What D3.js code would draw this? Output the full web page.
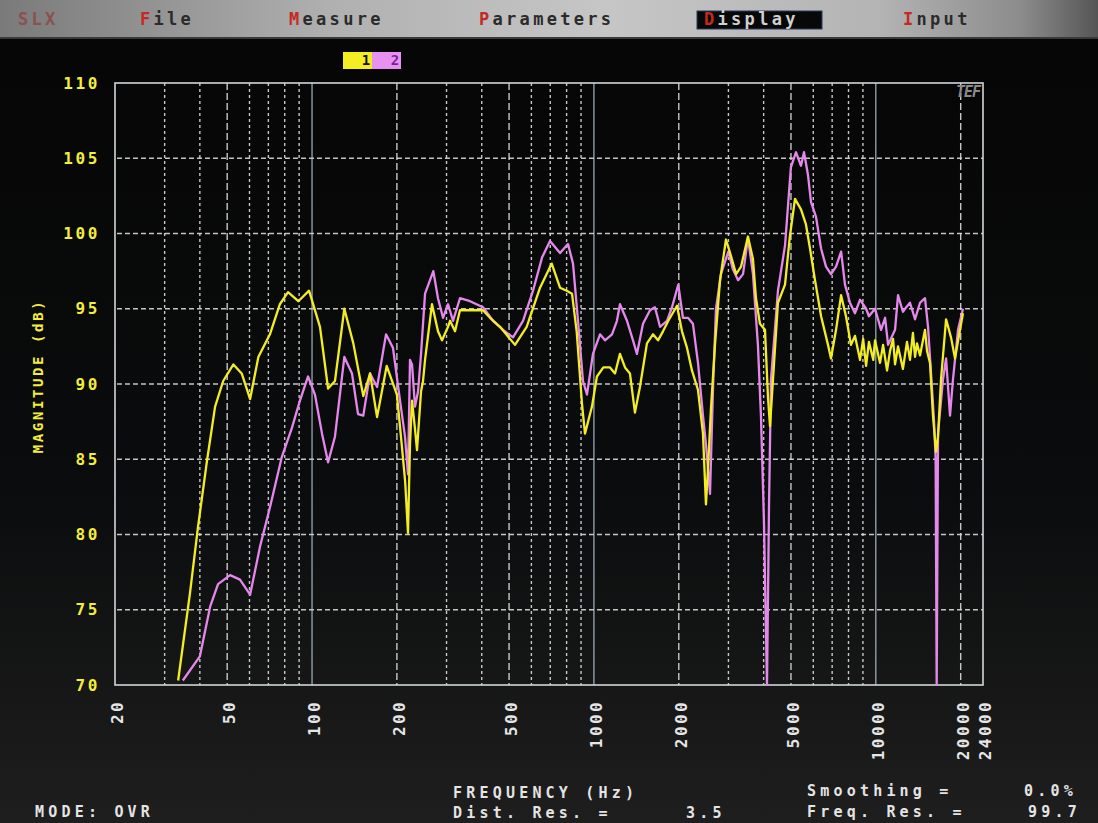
<!DOCTYPE html>
<html>
<head>
<meta charset="utf-8">
<script src="https://cdn.jsdelivr.net/npm/d3@7"></script>
<style>
  html, body { margin: 0; padding: 0; background: #0a0a0a; }
  svg { display: block; }
  text { font-family: "DejaVu Sans Mono", "Liberation Mono", monospace; font-weight: bold; }
</style>
</head>
<body>
<svg id="chart" width="1098" height="823"></svg>
<script>
// ---- data -------------------------------------------------------------
// Trace 1 (yellow): [frequency Hz, magnitude dB]
const trace1 = [
  [33.5,70.3],[36.9,76.1],[39.4,80.5],[42.4,84.9],[45.3,88.5],[48.4,90.2],[52.6,91.3],[56.3,90.7],
  [60.3,89.0],[64.5,91.8],[70.9,93.3],[76.9,95.3],[82.2,96.1],[89.4,95.5],[97.6,96.2],[106.7,93.8],
  [114,89.7],[120.6,90.2],[130.2,95.0],[140.1,92.7],[152,89.2],[160.6,90.7],[170.1,87.8],[184,91.2],
  [200,89.3],[208,86.0],[214,83.5],[219,80.1],[222.6,86.0],[226.3,88.9],[231.9,87.0],[235.7,85.6],
  [243.6,89.5],[247.6,90.2],[251.7,91.6],[266.4,95.3],[279.8,93.5],[289.1,92.9],[303.7,93.8],[308.7,94.2],
  [321.6,93.5],[334.8,94.9],[404,94.9],[427.9,94.4],[464.4,93.8],[524.8,92.6],[577.3,93.8],[643.9,96.4],
  [708.4,98.0],[758.1,96.4],[800.6,96.2],[836,96.0],[868.5,93.5],[907,88.7],[929.6,86.7],[984,88.5],
  [1025,90.5],[1080,91.1],[1140,91.1],[1188,90.7],[1237,92.0],[1289,91.1],[1342,90.7],[1398,88.1],
  [1456,89.8],[1542,92.7],[1620,93.3],[1688,92.9],[1758,93.5],[1836,94.2],[1971,95.2],[2053,93.5],
  [2139,92.4],[2227,90.9],[2340,89.6],[2437,86.7],[2497,82.0],[2539,84.4],[2602,88.4],[2688,92.6],
  [2801,96.9],[2941,99.6],[3064,98.5],[3194,97.3],[3326,97.8],[3519,99.8],[3666,98.3],[3757,95.7],
  [3881,94.0],[4044,93.6],[4145,89.1],[4213,87.2],[4318,90.3],[4496,95.4],[4763,96.6],[4948,99.7],
  [5167,102.3],[5427,101.6],[5652,100.6],[5841,99.0],[6085,96.9],[6394,94.5],[6766,92.6],[6935,91.7],
  [7226,93.6],[7530,95.9],[7836,94.5],[8163,92.6],[8433,93.2],[8790,91.6],[9017,93.0],[9236,91.2],
  [9452,92.8],[9795,91.6],[9934,92.9],[10351,91.4],[10610,92.6],[10960,90.9],[11234,92.2],[11512,93.0],
  [11700,91.3],[11989,92.5],[12480,91.0],[12900,92.8],[13220,91.6],[13540,93.4],[13775,91.8],[14000,92.7],
  [14347,91.9],[14945,93.6],[15190,92.2],[15570,91.4],[15950,87.9],[16350,85.5],[16620,86.5],[17030,90.3],
  [17750,94.3],[18480,93.1],[19100,91.7],[19890,93.6],[20380,94.7]
];

// Trace 2 (magenta): [frequency Hz, magnitude dB]
const trace2 = [
  [34.8,70.3],[40.0,71.9],[43.5,75.2],[46.4,76.7],[51.2,77.3],[55.5,77.0],[60.3,76.0],[65.4,79.2],
  [70.9,81.8],[78.0,85.1],[84.9,87.1],[90.6,88.9],[96.8,90.5],[102.4,89.3],[108.5,86.7],[114,84.8],
  [120.6,86.5],[130.2,91.8],[138.6,90.7],[145.6,88.0],[152,87.9],[160.6,90.7],[170.1,89.8],[183,93.3],
  [193.7,92.4],[205.2,88.9],[213.7,86.5],[219,84.0],[222.6,91.6],[226.3,91.3],[231.9,88.5],[237.7,89.5],
  [243.6,92.0],[251.7,96.0],[269.3,97.5],[279.8,95.7],[291.5,94.4],[303.7,95.3],[316.3,94.2],[334.8,95.7],
  [363.4,95.5],[404,95.1],[438.6,94.2],[475.9,93.6],[516.4,93.1],[560.4,94.2],[608,96.2],[654.4,98.4],
  [698.6,99.5],[758.1,98.7],[809.2,99.3],[843,98.0],[878.1,94.2],[914.5,90.2],[944.8,89.3],[992,92.0],
  [1051,93.3],[1095,92.9],[1159,93.3],[1207,94.2],[1237,95.3],[1310,94.2],[1376,92.9],[1421,92.0],
  [1493,94.0],[1581,94.9],[1646,95.1],[1716,93.8],[1817,94.2],[1892,95.1],[1992,96.6],[2069,94.4],
  [2156,94.4],[2245,94.0],[2340,91.4],[2437,87.9],[2497,86.0],[2581,82.7],[2646,89.8],[2710,95.0],
  [2823,97.3],[2997,98.8],[3115,97.6],[3247,96.9],[3380,97.3],[3519,99.7],[3666,97.3],[3817,92.6],
  [3913,87.9],[4011,80.8],[4111,70.0],[4180,82.0],[4248,90.3],[4496,96.2],[4763,99.2],[4997,104.4],
  [5210,105.4],[5427,104.5],[5561,105.4],[5745,103.9],[5889,102.1],[6135,101.1],[6394,99.0],[6656,97.8],
  [6935,97.3],[7226,97.8],[7530,98.8],[7773,96.6],[8096,95.4],[8433,94.7],[8790,95.6],[9236,95.0],
  [9452,94.5],[9934,95.0],[10437,93.6],[10786,94.4],[11052,92.6],[11700,93.6],[11989,95.9],[12480,94.8],
  [12694,95.0],[13220,95.4],[13775,94.3],[14347,95.4],[14945,95.7],[15318,93.8],[15700,90.7],[16090,87.5],
  [16300,85.0],[16440,70.0],[16620,86.7],[17310,90.3],[17750,91.7],[18330,87.9],[18780,90.3],[19570,93.6],
  [20380,95.0]
];

// Axis ticks and labels
const yTickValues = [70, 75, 80, 85, 90, 95, 100, 105, 110];
const xLabelValues = [20, 50, 100, 200, 500, 1000, 2000, 5000, 10000, 20000, 24000];
const xGridValues = [30, 40, 50, 60, 70, 80, 90, 100,
                     200, 300, 400, 500, 600, 700, 800, 900, 1000,
                     2000, 3000, 4000, 5000, 6000, 7000, 8000, 9000, 10000, 20000];
const menuLabels = ["SLX", "File", "Measure", "Parameters", "Display", "Input"];
const legendLabels = ["1", "2"];
const footerLeft = ["MODE: OVR"];
const footerMid = ["FREQUENCY (Hz)", "Dist. Res. =", "3.5"];
const footerRight = ["Smoothing =", "0.0%", "Freq. Res. =", "99.7"];

// ---- layout -----------------------------------------------------------
const W = 1098, H = 823;
const plot = { left: 115, right: 983, top: 83, bottom: 685 };
const COL1 = "#f2ee22", COL2 = "#e488ec", YEL = "#f4ee3a";

const svg = d3.select("#chart");
const defs = svg.append("defs");

const bg = defs.append("linearGradient").attr("id", "bg").attr("x1", 0).attr("y1", 0).attr("x2", 0).attr("y2", 1);
bg.append("stop").attr("offset", "0").attr("stop-color", "#050505");
bg.append("stop").attr("offset", "0.6").attr("stop-color", "#0b0c0d");
bg.append("stop").attr("offset", "1").attr("stop-color", "#1e1e1e");

const bar = defs.append("linearGradient").attr("id", "bar").attr("x1", 0).attr("y1", 0).attr("x2", 1).attr("y2", 0);
[["0", "#7a7a7a"], ["0.3", "#b0b0b0"], ["0.55", "#c6c6c6"], ["0.8", "#b4b4b4"], ["0.93", "#8c8c8c"], ["1", "#555555"]]
  .forEach(([o, c]) => bar.append("stop").attr("offset", o).attr("stop-color", c));

defs.append("clipPath").attr("id", "clip").append("rect")
  .attr("x", plot.left).attr("y", plot.top)
  .attr("width", plot.right - plot.left).attr("height", plot.bottom - plot.top);

svg.append("rect").attr("width", W).attr("height", H).attr("fill", "url(#bg)");

// ---- menu bar ---------------------------------------------------------
svg.append("rect").attr("x", 0).attr("y", 0).attr("width", W).attr("height", 38).attr("fill", "url(#bar)");
svg.append("rect").attr("x", 0).attr("y", 37).attr("width", W).attr("height", 2).attr("fill", "#3a3a3a");

const menuX = [18, 140, 289, 479, 697, 903];
const menu = svg.append("g").attr("font-size", 17).attr("letter-spacing", 3.3);
menuLabels.forEach((label, i) => {
  const active = label === "Display";
  if (active) {
    menu.append("rect").attr("x", 697).attr("y", 11).attr("width", 125).attr("height", 18)
      .attr("fill", "#080808").attr("stroke", "#2a3a60").attr("stroke-width", 1);
  }
  const t = menu.append("text").attr("x", active ? menuX[i] + 7 : menuX[i]).attr("y", 25);
  if (label === "SLX") {
    t.attr("fill", "#8e4848").attr("opacity", 0.85).text(label);
  } else {
    t.append("tspan").attr("fill", "#c42a22").text(label[0]);
    t.append("tspan").attr("fill", active ? "#d0d0d0" : "#2b2b2b").text(label.slice(1));
  }
});

// ---- legend -----------------------------------------------------------
const legend = svg.append("g").attr("font-size", 14);
[[COL1, "#111"], ["#e891f0", "#7a1f9a"]].forEach(([fill, ink], i) => {
  const x0 = 343 + i * 29;
  legend.append("rect").attr("x", x0).attr("y", 52).attr("width", 29).attr("height", 17).attr("fill", fill);
  legend.append("text").attr("x", x0 + 23).attr("y", 65).attr("text-anchor", "middle")
    .attr("fill", ink).text(legendLabels[i]);
});

// ---- scales -----------------------------------------------------------
const x = d3.scaleLog().domain([20, 24000]).range([plot.left, plot.right]);
const y = d3.scaleLinear().domain([70, 110]).range([plot.bottom, plot.top]);

// ---- grid -------------------------------------------------------------
const grid = svg.append("g");
grid.selectAll("line.h").data(yTickValues.filter(v => v > 70 && v < 110)).join("line")
  .attr("x1", plot.left + 2).attr("x2", plot.right)
  .attr("y1", d => y(d)).attr("y2", d => y(d))
  .attr("stroke", "#d9d9d9").attr("stroke-width", 1.3).attr("stroke-dasharray", "5 3").attr("opacity", 0.9);

const lead = v => Math.round(v / Math.pow(10, Math.floor(Math.log10(v) + 1e-9)));
grid.selectAll("line.v").data(xGridValues).join("line")
  .attr("x1", d => x(d)).attr("x2", d => x(d))
  .attr("y1", plot.top).attr("y2", plot.bottom)
  .attr("stroke", d => lead(d) === 1 ? "#b8c8d4" : "#dcdcdc")
  .attr("stroke-width", d => lead(d) === 1 ? 1.2 : 1.4)
  .attr("stroke-dasharray", d => lead(d) === 1 ? null : (lead(d) === 2 || lead(d) === 5 ? "7 3" : "3 3"))
  .attr("opacity", 0.9);

// frame
svg.append("rect").attr("x", plot.left).attr("y", plot.top)
  .attr("width", plot.right - plot.left).attr("height", plot.bottom - plot.top)
  .attr("fill", "none").attr("stroke", "#d2d6da").attr("stroke-width", 1.6);

// TEF mark
svg.append("text").attr("x", 980).attr("y", 97).attr("text-anchor", "end")
  .attr("font-size", 15).attr("font-style", "italic").attr("letter-spacing", -1)
  .attr("fill", "#8a8a8a").text("TEF");

// ---- traces -----------------------------------------------------------
const line = d3.line().x(d => x(d[0])).y(d => y(Math.max(70, d[1])));
const traces = svg.append("g").attr("clip-path", "url(#clip)").attr("fill", "none")
  .attr("stroke-width", 2.3).attr("stroke-linejoin", "round");
traces.append("path").datum(trace2).attr("d", line).attr("stroke", COL2);
traces.append("path").datum(trace1).attr("d", line).attr("stroke", COL1);

// ---- axes -------------------------------------------------------------
const yAxis = svg.append("g").attr("transform", `translate(${plot.left},0)`)
  .call(d3.axisLeft(y).tickValues(yTickValues).tickSize(0).tickPadding(15).tickFormat(d3.format("d")));
yAxis.select(".domain").remove();
yAxis.selectAll("text")
  .attr("font-family", '"DejaVu Sans Mono", monospace').attr("font-weight", "bold")
  .attr("font-size", 16).attr("letter-spacing", 2.6).attr("fill", YEL);

svg.append("text")
  .attr("transform", `translate(43,${(plot.top + plot.bottom) / 2 - 8}) rotate(-90)`)
  .attr("text-anchor", "middle").attr("font-size", 14).attr("letter-spacing", 2.6)
  .attr("fill", YEL).text("MAGNITUDE (dB)");

const xAxis = svg.append("g").attr("transform", `translate(0,${plot.bottom})`)
  .call(d3.axisBottom(x).tickValues(xLabelValues).tickSize(0).tickFormat(d3.format("d")));
xAxis.select(".domain").remove();
xAxis.selectAll("text")
  .attr("font-family", '"DejaVu Sans Mono", monospace').attr("font-weight", "bold")
  .attr("font-size", 16).attr("letter-spacing", 2.4).attr("fill", "#e6e6e6")
  .attr("text-anchor", "end").attr("transform", "rotate(-90)")
  .attr("x", -15).attr("y", 2).attr("dy", "0.35em");

// ---- footer -----------------------------------------------------------
const foot = svg.append("g").attr("font-size", 15).attr("letter-spacing", 4.2).attr("fill", "#e4e4e4");
foot.append("text").attr("x", 35).attr("y", 817).text(footerLeft[0]);
foot.append("text").attr("x", 453).attr("y", 798).text(footerMid[0]);
foot.append("text").attr("x", 453).attr("y", 818).text(footerMid[1]);
foot.append("text").attr("x", 686).attr("y", 818).text(footerMid[2]);
foot.append("text").attr("x", 807).attr("y", 796).text(footerRight[0]);
foot.append("text").attr("x", 1024).attr("y", 796).text(footerRight[1]);
foot.append("text").attr("x", 807).attr("y", 817).text(footerRight[2]);
foot.append("text").attr("x", 1028).attr("y", 817).text(footerRight[3]);
</script>
</body>
</html>
